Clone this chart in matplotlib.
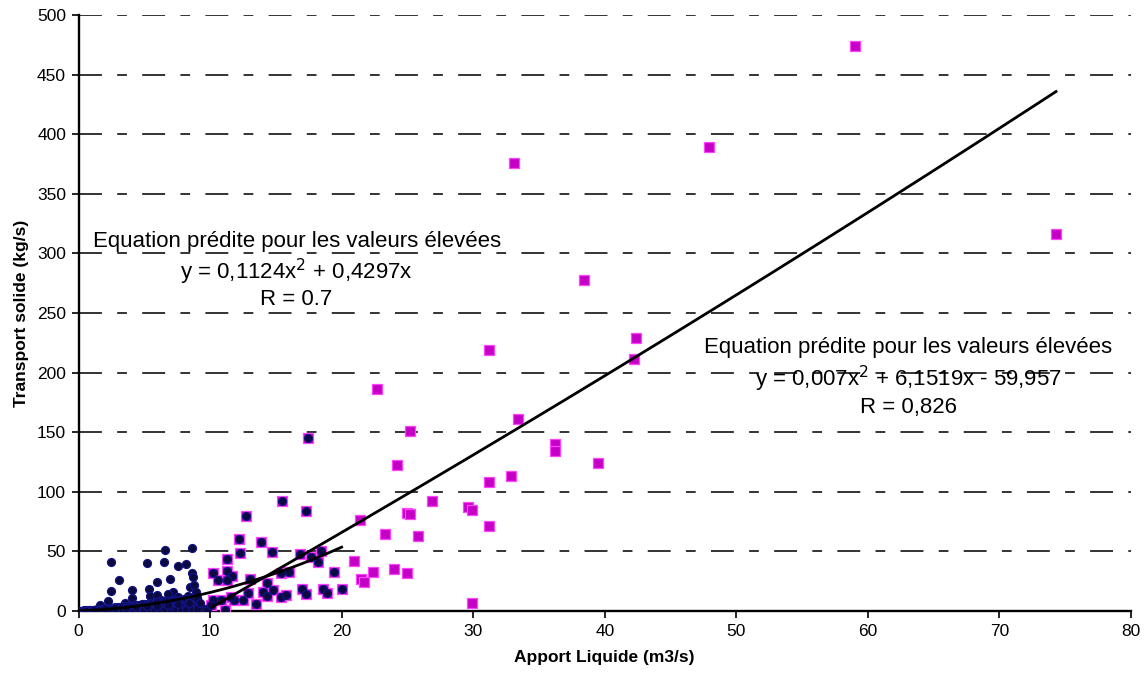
import numpy as np
import matplotlib
matplotlib.use("Agg")
import matplotlib.pyplot as plt

plt.rcParams['font.family'] = ['Liberation Sans', 'DejaVu Sans']
plt.rcParams['lines.scale_dashes'] = False

# ---------------- data ----------------
# high-value series (magenta squares)
high_x = [59.0, 47.9, 33.1, 74.3, 38.4, 42.4, 42.2, 31.2, 22.7, 17.45, 25.2, 33.4,
          36.2, 36.2, 39.5, 24.2, 31.2, 32.9, 21.4, 24.96, 25.2, 26.9, 29.6, 29.9,
          31.2, 23.3, 25.8, 20.95, 21.5, 21.7, 22.4, 24.0, 24.96, 29.9, 20.0,
          15.5, 17.3, 12.7, 12.2, 13.9, 12.3, 14.7, 11.3, 16.8, 18.4, 17.7, 18.2,
          19.4, 10.25, 10.6, 11.3, 11.7, 11.3, 13.0, 14.3, 15.4, 16.0, 14.0, 14.3,
          14.8, 15.4, 15.8, 17.0, 17.3, 18.6, 18.9, 12.5, 11.8, 10.2, 10.8, 10.1,
          11.1, 11.6, 12.9, 13.5]
high_y = [474, 389, 376, 316, 278, 229, 211, 219, 186, 145, 151, 161,
          140, 134.5, 124, 122.5, 108, 113, 76, 82, 81.4, 92, 87.5, 84.7,
          71, 65, 63, 42, 27, 24.6, 33, 35, 31.6, 6.5, 18.5,
          92, 84, 80, 60, 58, 49, 49.5, 44, 48, 50, 45.5, 41,
          33, 31.6, 26, 33.5, 29, 26, 26.6, 23.7, 31.6, 32.7, 16.2, 12.6,
          17.6, 11.5, 13.4, 18.7, 14.3, 18.7, 14.8, 9.2, 9.2, 9.2, 9.2, 5,
          1, 12, 15, 6]

# low-flow series (navy dots), x < 10
low_x = [2.45, 6.6, 8.65, 5.2, 6.5, 7.6, 8.2, 8.65, 8.7, 3.1, 5.95, 6.96,
         2.5, 4.1, 5.36, 7.2, 8.48, 8.8, 4.1, 5.4, 2.27, 5.95, 6.8, 7.6,
         8.3, 8.9, 3.5, 1.6, 6.3, 7.1, 8.7, 9.0,
         0.1, 0.2, 0.3, 0.4, 0.5, 0.6, 0.7, 0.8, 0.9, 1.0, 1.1, 1.2, 1.3, 1.4,
         1.5, 1.6, 1.7, 1.8, 1.9, 2.0, 2.1, 2.2, 2.3, 2.4, 2.5, 2.6, 2.7, 2.8,
         2.9, 3.0, 3.1, 3.2, 3.3, 3.4, 3.5, 3.6, 3.7, 3.8, 3.9, 4.0, 4.1, 4.2,
         4.3, 4.4, 4.5, 4.6, 4.7, 4.8, 4.9, 5.0, 5.1, 5.2, 5.3, 5.4, 5.5, 5.6,
         5.7, 5.8, 5.9, 6.0, 6.1, 6.2, 6.3, 6.4, 6.5, 6.6, 6.7, 6.8, 6.9, 7.0,
         7.1, 7.2, 7.3, 7.4, 7.5, 7.6, 7.7, 7.8, 7.9, 8.0, 8.1, 8.2, 8.3, 8.4,
         8.5, 8.6, 8.7, 8.8, 8.9, 9.0, 9.1, 9.2, 9.4, 9.6, 9.8,
         0.6, 1.0, 1.4, 1.8, 2.2, 2.6, 3.0, 3.4, 3.8, 4.2, 4.6, 5.0, 5.4, 5.8,
         6.2, 6.6, 7.0, 7.4, 7.8, 8.2, 8.6, 9.0,
         1.2, 2.0, 2.8, 3.6, 4.4, 5.2, 6.0, 6.8, 7.6, 8.4, 9.2]
low_y = [41.5, 51, 52.6, 40, 41.4, 37.8, 39.4, 32, 28.8, 26, 24.6, 26.8,
         16.8, 17.6, 18.2, 16.2, 20.4, 21.8, 10.8, 12.6, 8.4, 13.4, 14.5, 12,
         13, 16, 7, 5, 9, 9.5, 9, 11,
         0.1, 0.3, 0.2, 0.5, 0.3, 0.6, 0.4, 0.8, 0.5, 1.0, 0.7, 1.2, 0.6, 1.4,
         0.9, 1.6, 1.0, 1.8, 1.1, 2.0, 1.3, 2.3, 1.2, 2.5, 1.5, 2.8, 1.4, 3.0,
         1.7, 3.3, 1.6, 3.5, 1.9, 3.8, 1.8, 4.0, 2.1, 4.3, 2.0, 4.6, 2.3, 4.8,
         2.2, 5.1, 2.5, 5.3, 2.4, 5.6, 2.7, 5.9, 2.6, 6.1, 2.9, 6.4, 2.8, 6.6,
         3.1, 6.9, 3.0, 7.2, 3.3, 7.4, 3.2, 7.7, 3.5, 8.0, 3.4, 8.2, 3.7, 8.5,
         3.6, 8.8, 3.9, 9.0, 3.8, 9.3, 4.1, 9.6, 4.0, 9.8, 4.3, 10.1, 4.2, 10.4,
         4.5, 10.6, 4.4, 10.9, 4.7, 11.2, 4.6, 3.4, 2.5, 1.8, 1.2,
         0.2, 0.3, 0.2, 0.4, 0.3, 0.5, 0.4, 0.6, 0.5, 0.7, 0.6, 0.8, 0.7, 0.9,
         0.8, 1.0, 0.9, 1.1, 1.0, 1.2, 1.1, 1.3,
         0.9, 1.5, 2.1, 2.7, 3.3, 3.9, 4.5, 5.1, 5.7, 6.3, 6.9]

# equations (trend lines)
coef_low = [0.1124, 0.4297, 0.0]
range_low = [0.0, 20.0]
coef_high = [0.007, 6.1519, -59.957]
range_high = [10.2, 74.3]

x_ticks = [0, 10, 20, 30, 40, 50, 60, 70, 80]
y_ticks = [0, 50, 100, 150, 200, 250, 300, 350, 400, 450, 500]

text_left = ["Equation prédite pour les valeurs élevées",
             "y = 0,1124x$^2$ + 0,4297x", "R = 0.7"]
text_right = ["Equation prédite pour les valeurs élevées",
              "y = 0,007x$^2$ + 6,1519x - 59,957", "R = 0,826"]

# ---------------- plot ----------------
fig = plt.figure(figsize=(11.47, 6.78), dpi=100)
ax = fig.add_axes([78.5 / 1147, 1 - 611 / 678, (1131 - 78.5) / 1147, (611 - 15) / 678])

ax.set_xlim(0, 80)
ax.set_ylim(0, 500)

ax.set_yticks(y_ticks)
ax.set_xticks(x_ticks)
for yv in y_ticks[1:]:
    ax.axhline(yv, color='#333333', lw=1.4, linestyle=(0, (16.5, 11, 7, 11)), zorder=1)

hx = np.array(high_x); hy = np.array(high_y)
ax.scatter(hx, hy, marker='s', s=62, facecolor='#c400c4', edgecolor='#ff44ff',
           linewidths=0.9, zorder=3)

lx = np.concatenate([np.array(low_x), hx[hx <= 20]])
ly = np.concatenate([np.array(low_y), hy[hx <= 20]])
ax.scatter(lx, ly, marker='o', s=34, facecolor='#0a0a40', edgecolor='#14148a',
           linewidths=0.8, zorder=4)

xs = np.linspace(range_low[0], range_low[1], 200)
ax.plot(xs, np.polyval(coef_low, xs), color='black', lw=2.0, zorder=5)
xs2 = np.linspace(range_high[0], range_high[1], 300)
ax.plot(xs2, np.polyval(coef_high, xs2), color='black', lw=2.0, zorder=5)

for sp in ['top', 'right']:
    ax.spines[sp].set_visible(False)
for sp in ['left', 'bottom']:
    ax.spines[sp].set_linewidth(1.7)
    ax.spines[sp].set_color('black')
ax.tick_params(axis='both', direction='out', length=5, width=1.2, labelsize=12.5,
               colors='black', pad=4)
ax.set_xlabel("Apport Liquide (m3/s)", fontsize=12.5, fontweight='bold', labelpad=8)
ax.set_ylabel("Transport solide (kg/s)", fontsize=12.5, fontweight='bold', labelpad=6)

def px(xp, yp):
    return (xp / 1147, 1 - yp / 678)

fs = 16
fig.text(*px(297, 242), text_left[0], fontsize=fs, ha='center', va='center')
fig.text(*px(296, 272), text_left[1], fontsize=fs, ha='center', va='center')
fig.text(*px(296, 299), text_left[2], fontsize=fs, ha='center', va='center')
fig.text(*px(908, 347), text_right[0], fontsize=fs, ha='center', va='center')
fig.text(*px(908, 379), text_right[1], fontsize=fs, ha='center', va='center')
fig.text(*px(908, 407), text_right[2], fontsize=fs, ha='center', va='center')

fig.savefig("out.png", dpi=100)
